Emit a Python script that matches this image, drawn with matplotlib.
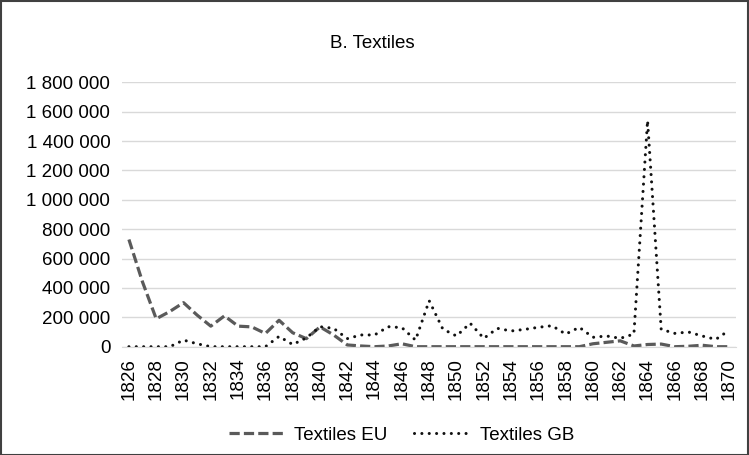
import numpy as np
import matplotlib
matplotlib.use('Agg')
import matplotlib.pyplot as plt
from matplotlib.patches import Rectangle
from matplotlib.ticker import FuncFormatter

plt.rcParams['font.family'] = ['Liberation Sans', 'DejaVu Sans']

# 数据
years = list(range(1826, 1871))
textiles_eu = [730000, 440000, 190000, 240000, 300000, 215000, 140000, 210000,
               140000, 135000, 90000, 180000, 95000, 55000, 135000, 80000,
               12000, 5000, 0, 5000, 20000, 0,
               0, 0, 0, 0, 0, 0, 0, 0, 0, 0, 0, 0,
               20000, 30000, 40000, 5000, 15000, 18000, 0, 3000, 10000, 0, 0]
textiles_gb = [0, 0, 0, 0, 45000, 20000, 0, 0, 0, 0, 0, 70000, 15000, 60000,
               136000, 125000, 55000, 80000, 80000, 136000, 130000, 45000,
               313000, 120000, 73000, 160000, 57000, 125000, 107000, 118000,
               132000, 143000, 86000, 132000, 64000, 73000, 57000, 86000,
               1540000, 118000, 91000, 100000, 73000, 50000, 113000]
y_ticks = list(range(0, 1800001, 200000))

fig = plt.figure(figsize=(7.49, 4.55), dpi=100)
ax = fig.add_axes([0.163, 0.238, 0.820, 0.581])

idx = np.arange(len(years))
ax.plot(idx, textiles_eu, color='#5a5a5a', lw=2.3, dashes=(3.2, 1.3),
        label='Textiles EU')
ax.plot(idx, textiles_gb, color='#111111', lw=2.2, dashes=(0.01, 2.4),
        dash_capstyle='round', label='Textiles GB')

ax.set_xlim(-0.5, len(years) - 0.5)
ax.set_ylim(0, 1800000)
ax.set_xticks(idx[::2])
ax.set_xticklabels([str(y) for y in years[::2]], rotation=90, fontsize=13.5)
ax.set_yticks(y_ticks)
ax.yaxis.set_major_formatter(FuncFormatter(lambda v, p: f'{int(v):,}'.replace(',', ' ')))
ax.tick_params(axis='y', labelsize=13.5, length=0, pad=8.5)
ax.tick_params(axis='x', length=0, pad=8)
ax.grid(axis='y', color='#d9d9d9', lw=1)
ax.set_axisbelow(True)
for s in ['top', 'right', 'left']:
    ax.spines[s].set_visible(False)
ax.spines['bottom'].set_color('#d9d9d9')

fig.suptitle('B. Textiles', x=0.497, y=0.905, va='center', fontsize=13.5)
fig.legend(loc='center', bbox_to_anchor=(0.536, 0.044), ncol=2, frameon=False,
           fontsize=13.5, handlelength=3.0, columnspacing=1.4, handletextpad=0.5)

# 外框
fig.add_artist(Rectangle((0.001, 0.001), 0.997, 0.997, transform=fig.transFigure,
                         fill=False, edgecolor='#404040', lw=1.5))

fig.savefig('out.png', dpi=100)
